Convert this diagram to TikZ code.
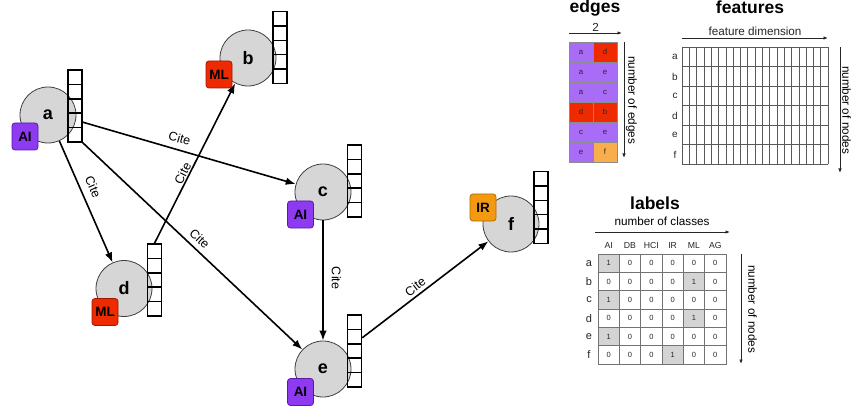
\documentclass[tikz,border=0pt]{standalone}
\usepackage{fontspec}
\setmainfont{Liberation Sans}
\usetikzlibrary{arrows.meta,calc}
\definecolor{aiC}{HTML}{8E3AF0}
\definecolor{aiB}{HTML}{5A1AA8}
\definecolor{mlC}{HTML}{EE2A00}
\definecolor{mlB}{HTML}{A01800}
\definecolor{irC}{HTML}{F39A12}
\definecolor{irB}{HTML}{B06A00}
\definecolor{cP}{HTML}{A86CF6}
\definecolor{cR}{HTML}{F02A00}
\definecolor{cO}{HTML}{F8AE4C}
\definecolor{circ}{HTML}{D6D6D6}
\definecolor{hl}{HTML}{D4D4D4}
\begin{document}
\begin{tikzpicture}[x=1pt,y=-1pt,
  gnode/.style={circle, draw=black!75, line width=0.8pt, fill=circ, minimum size=56pt, inner sep=0pt, font=\fontsize{18}{18}\selectfont\bfseries},
  vec/.style={draw, line width=1.5pt, minimum width=14pt, minimum height=72pt, inner sep=0pt,
    path picture={\foreach \k in {1,2,3,4}{\draw[line width=1.5pt] ($(path picture bounding box.north west)!\k/5!(path picture bounding box.south west)$) -- ($(path picture bounding box.north east)!\k/5!(path picture bounding box.south east)$);}}},
  badge/.style={rounded corners=3pt, minimum width=26pt, minimum height=27pt, inner sep=0pt, font=\fontsize{13.5}{13.5}\selectfont\bfseries, line width=0.8pt},
  citearrow/.style={-{Latex[length=10pt,width=7.5pt]}, line width=1.6pt},
  citefont/.style={font=\fontsize{12.5}{12.5}\selectfont},
  citelab/.style={citefont, sloped, above, inner sep=1pt},
  tarrow/.style={-{Latex[length=4.5pt,width=3.5pt]}, line width=0.9pt, black!85},
  small/.style={font=\fontsize{11.7}{11.7}\selectfont},
  title/.style={font=\fontsize{17.5}{17.5}\selectfont\bfseries, anchor=base},
  ecell/.style={draw=black!45, line width=0.5pt, minimum width=24pt, minimum height=20pt, inner sep=0pt, font=\fontsize{7.8}{7.8}\selectfont, text=black!85},
  lcell/.style={draw=black!55, line width=0.6pt, minimum width=21.33pt, minimum height=18.33pt, inner sep=0pt, font=\fontsize{7.5}{7.5}\selectfont, text=black!85},
  hdr/.style={font=\fontsize{8.7}{8.7}\selectfont, text=black!85},
  flab/.style={font=\fontsize{10}{10}\selectfont, text=black!85},
  rlab/.style={font=\fontsize{11}{11}\selectfont, text=black!85}
]
\useasboundingbox (0,0) rectangle (852,409);

% graph nodes
\node[gnode] (a) at (48,115) {a};
\node[gnode] (b) at (248,58) {b};
\node[gnode] (c) at (323,192) {c};
\node[gnode] (d) at (124,288.5) {d};
\node[gnode] (e) at (323,369) {e};
\node[gnode] (f) at (511,224) {f};

\node[vec] (va) at (75,106) {};
\node[vec] (vb) at (280,47.5) {};
\node[vec] (vc) at (354.5,181) {};
\node[vec] (vd) at (154.5,280) {};
\node[vec] (ve) at (354.5,351) {};
\node[vec] (vf) at (541,207.5) {};

\node[badge, fill=aiC, draw=aiB] (ba) at (25,136.5) {AI};
\node[badge, fill=mlC, draw=mlB] (bb) at (219,74.5) {ML};
\node[badge, fill=aiC, draw=aiB] (bc) at (300.5,214.5) {AI};
\node[badge, fill=mlC, draw=mlB] (bd) at (105,312) {ML};
\node[badge, fill=aiC, draw=aiB] (be) at (300.5,392) {AI};
\node[badge, fill=irC, draw=irB] (bf) at (483,207.5) {IR};

% edges
\draw[citearrow] ($(va.north east)!0.72!(va.south east)$) -- (c) node[citelab, pos=0.44, above=5pt] {Cite};
\draw[citearrow] (a) -- (d) node[citelab, pos=0.42, above=6pt] {Cite};
\draw[citearrow] (va.south east) -- (e) node[citelab, pos=0.5, above=4pt] {Cite};
\draw[citearrow] (vd.north) -- (b) node[citelab, pos=0.42, above=0pt] {Cite};
\draw[citearrow] (c) -- (e) node[citefont, pos=0.48, rotate=-90, anchor=south, inner sep=8pt] {Cite};
\draw[citearrow] ($(ve.north east)!0.32!(ve.south east)$) -- (f) node[citelab, pos=0.46, above=2pt] {Cite};

% edges table
\node[title] (tedges) at (595,12.5) {edges};
\coordinate (e2s) at (569,33);
\coordinate (e2e) at (622,33);
\draw[tarrow] (e2s) -- (e2e) node[midway, above, inner sep=1.5pt, small] {2};
\foreach \i/\s/\t/\cs/\ct in {0/a/d/cP/cR, 1/a/e/cP/cP, 2/a/c/cP/cP, 3/d/b/cR/cR, 4/c/e/cP/cP, 5/e/f/cP/cO}{
  \node[ecell, fill=\cs] (es\i) at (581,52+20*\i) {\s};
  \node[ecell, fill=\ct] (et\i) at (605,52+20*\i) {\t};
}
\coordinate (nes) at (624,42);
\coordinate (nee) at (624,158);
\draw[tarrow] (nes) -- (nee);
\node[small, rotate=-90] (nel) at (631.5,100) {number of edges};

% features
\node[title] (tfeat) at (750,14) {features};
\coordinate (fds) at (682,38);
\coordinate (fde) at (828,38);
\draw[tarrow] (fds) -- (fde) node[midway, above, inner sep=1.5pt, small] {feature dimension};
\foreach \k in {0,...,20}{
  \draw[black!65, line width=0.6pt] (682+7.3*\k,47) -- (682+7.3*\k,164);
}
\foreach \j in {0,...,6}{
  \draw[black!65, line width=0.6pt] (682,47+19.5*\j) -- (828,47+19.5*\j);
}
\foreach \j/\l in {0/a,1/b,2/c,3/d,4/e,5/f}{
  \node[flab] (fr\j) at (675,57+19.5*\j) {\l};
}
\coordinate (fns) at (840,47);
\coordinate (fne) at (840,173);
\draw[tarrow] (fns) -- (fne);
\node[small, rotate=-90] (fnl) at (846.5,110) {number of nodes};

% labels
\node[title] (tlab) at (655,209) {labels};
\coordinate (lcs) at (595,232);
\coordinate (lce) at (730,232);
\draw[tarrow] (lcs) -- (lce);
\node[small, anchor=base] (lcl) at (662,225.5) {number of classes};
\foreach \c/\h in {0/AI,1/DB,2/HCI,3/IR,4/ML,5/AG}{
  \node[hdr] (lh\c) at (608.67+21.33*\c,246) {\h};
}
\foreach \r/\lab/\hc in {0/a/0,1/b/4,2/c/0,3/d/4,4/e/0,5/f/3}{
  \node[rlab] (lr\r) at (589,263.2+18.33*\r) {\lab};
  \foreach \c in {0,...,5}{
    \ifnum\c=\hc\relax \def\v{1}\def\f{hl}\else\def\v{0}\def\f{white}\fi
    \node[lcell, fill=\f] (l\r\c) at (608.67+21.33*\c,263.17+18.33*\r) {\v};
  }
}
\coordinate (lns) at (741,254);
\coordinate (lne) at (741,364);
\draw[tarrow] (lns) -- (lne);
\node[small, rotate=-90] (lnl) at (752.5,309) {number of nodes};
\end{tikzpicture}
\end{document}
